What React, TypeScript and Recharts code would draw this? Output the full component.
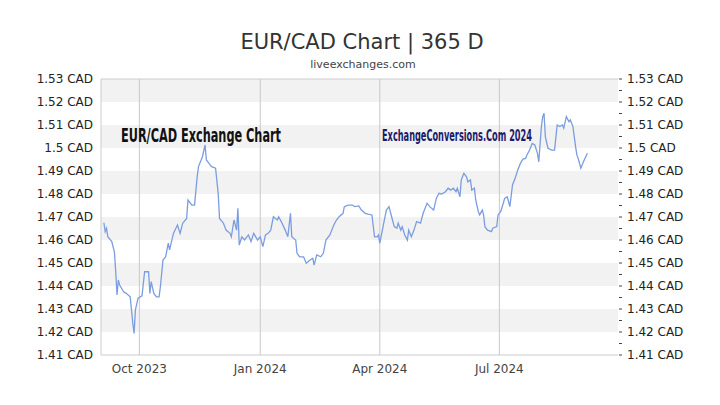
import { LineChart, Line, XAxis, YAxis, ReferenceArea, ReferenceLine } from 'recharts'

// EUR/CAD daily closes
const dates = [
  '2023-09-04', '2023-09-05', '2023-09-06', '2023-09-07', '2023-09-10', '2023-09-12', '2023-09-13', '2023-09-14',
  '2023-09-15', '2023-09-16', '2023-09-19', '2023-09-21', '2023-09-24', '2023-09-25', '2023-09-26', '2023-09-27',
  '2023-09-28', '2023-09-30', '2023-10-03', '2023-10-05', '2023-10-08', '2023-10-09', '2023-10-10', '2023-10-12',
  '2023-10-14', '2023-10-16', '2023-10-17', '2023-10-19', '2023-10-21', '2023-10-23', '2023-10-24', '2023-10-27',
  '2023-10-30', '2023-11-01', '2023-11-03', '2023-11-06', '2023-11-07', '2023-11-10', '2023-11-12', '2023-11-14',
  '2023-11-15', '2023-11-18', '2023-11-20', '2023-11-21', '2023-11-23', '2023-11-25', '2023-11-28', '2023-11-30',
  '2023-12-01', '2023-12-04', '2023-12-06', '2023-12-09', '2023-12-10', '2023-12-12', '2023-12-14', '2023-12-15',
  '2023-12-16', '2023-12-18', '2023-12-20', '2023-12-23', '2023-12-25', '2023-12-27', '2023-12-30', '2024-01-01',
  '2024-01-03', '2024-01-05', '2024-01-07', '2024-01-09', '2024-01-11', '2024-01-14', '2024-01-15', '2024-01-17',
  '2024-01-20', '2024-01-22', '2024-01-24', '2024-01-25', '2024-01-28', '2024-01-29', '2024-01-31', '2024-02-03',
  '2024-02-05', '2024-02-08', '2024-02-10', '2024-02-11', '2024-02-13', '2024-02-16', '2024-02-18', '2024-02-20',
  '2024-02-23', '2024-02-26', '2024-02-28', '2024-03-01', '2024-03-04', '2024-03-05', '2024-03-08', '2024-03-11',
  '2024-03-13', '2024-03-16', '2024-03-18', '2024-03-21', '2024-03-23', '2024-03-26', '2024-03-28', '2024-03-30',
  '2024-03-31', '2024-04-01', '2024-04-04', '2024-04-06', '2024-04-08', '2024-04-10', '2024-04-12', '2024-04-14',
  '2024-04-15', '2024-04-17', '2024-04-18', '2024-04-20', '2024-04-22', '2024-04-23', '2024-04-25', '2024-04-27',
  '2024-04-29', '2024-05-02', '2024-05-04', '2024-05-07', '2024-05-09', '2024-05-12', '2024-05-14', '2024-05-16',
  '2024-05-18', '2024-05-21', '2024-05-23', '2024-05-25', '2024-05-27', '2024-05-29', '2024-05-30', '2024-06-01',
  '2024-06-02', '2024-06-04', '2024-06-06', '2024-06-07', '2024-06-09', '2024-06-10', '2024-06-12', '2024-06-13',
  '2024-06-15', '2024-06-16', '2024-06-18', '2024-06-19', '2024-06-20', '2024-06-22', '2024-06-25', '2024-06-26',
  '2024-06-29', '2024-06-30', '2024-07-02', '2024-07-04', '2024-07-05', '2024-07-07', '2024-07-09', '2024-07-11',
  '2024-07-13', '2024-07-15', '2024-07-17', '2024-07-19', '2024-07-21', '2024-07-22', '2024-07-24', '2024-07-26',
  '2024-07-28', '2024-07-30', '2024-07-31', '2024-08-02', '2024-08-03', '2024-08-04', '2024-08-05', '2024-08-07',
  '2024-08-10', '2024-08-12', '2024-08-14', '2024-08-16', '2024-08-18', '2024-08-19', '2024-08-21', '2024-08-23',
  '2024-08-24', '2024-08-26', '2024-08-28', '2024-08-29', '2024-08-30', '2024-09-01', '2024-09-03', '2024-09-06',
]

const rates = [
  1.4675, 1.4636, 1.4651, 1.4614, 1.4593, 1.4549, 1.4462, 1.4361,
  1.4426, 1.4404, 1.4375, 1.4368, 1.4353, 1.4296, 1.4238, 1.4194,
  1.4296, 1.4347, 1.4357, 1.4462, 1.4462, 1.4368, 1.4419, 1.4368,
  1.4353, 1.4353, 1.4397, 1.4513, 1.4527, 1.4586, 1.4557, 1.463,
  1.4665, 1.4629, 1.4673, 1.4694, 1.4774, 1.4752, 1.4752, 1.4875,
  1.4919, 1.4962, 1.5013, 1.4948, 1.4933, 1.4919, 1.4912, 1.4803,
  1.4694, 1.4673, 1.4643, 1.4629, 1.4614, 1.4687, 1.4643, 1.4738,
  1.4578, 1.4614, 1.46, 1.4622, 1.4593, 1.4629, 1.46, 1.4614,
  1.4571, 1.4622, 1.4629, 1.4643, 1.4701, 1.4687, 1.4701, 1.468,
  1.4643, 1.4614, 1.4716, 1.4614, 1.46, 1.4542, 1.4527, 1.4527,
  1.4499, 1.4513, 1.452, 1.4491, 1.4535, 1.4527, 1.4542, 1.46,
  1.4622, 1.4665, 1.4687, 1.4701, 1.4716, 1.4745, 1.4752, 1.4752,
  1.4745, 1.4748, 1.473, 1.4716, 1.4713, 1.4709, 1.4614, 1.4614,
  1.4622, 1.4586, 1.4673, 1.473, 1.4745, 1.4701, 1.4658, 1.4651,
  1.4673, 1.4643, 1.4658, 1.4622, 1.46, 1.4643, 1.4614, 1.4643,
  1.468, 1.4673, 1.4716, 1.476, 1.4745, 1.473, 1.4781, 1.4803,
  1.48, 1.481, 1.4825, 1.4817, 1.4825, 1.481, 1.4825, 1.4788,
  1.4861, 1.489, 1.4875, 1.4853, 1.4861, 1.4817, 1.4825, 1.4774,
  1.4723, 1.4709, 1.473, 1.4709, 1.4658, 1.4643, 1.4636, 1.4651,
  1.4658, 1.4709, 1.4723, 1.476, 1.4781, 1.4788, 1.4745, 1.4839,
  1.4868, 1.4904, 1.4933, 1.4952, 1.4955, 1.497, 1.4991, 1.502,
  1.5013, 1.4977, 1.494, 1.5093, 1.5136, 1.5151, 1.5049, 1.4999,
  1.4991, 1.4991, 1.51, 1.5093, 1.51, 1.5086, 1.5136, 1.5114,
  1.5122, 1.5093, 1.5006, 1.497, 1.4955, 1.4912, 1.494, 1.4977,
]

const xTickDates = ['2023-10-01', '2024-01-01', '2024-04-01', '2024-07-01']
const xTickLabels = ['Oct 2023', 'Jan 2024', 'Apr 2024', 'Jul 2024']
const yTicks = [1.41, 1.42, 1.43, 1.44, 1.45, 1.46, 1.47, 1.48, 1.49, 1.5, 1.51, 1.52, 1.53]

const ORIGIN = Date.parse('2023-10-01')
const toDay = (s: string) => (Date.parse(s) - ORIGIN) / 86400000

const data = dates.map((d, i) => ({ day: toDay(d), rate: rates[i] }))
const xTicks = xTickDates.map(toDay)

// grey stripes on every other band, starting at 1.42
const bands = yTicks.slice(0, -1).map((v, i) => [v, yTicks[i + 1]]).filter((_, i) => i % 2 === 1)

// right axis has small marks every half step
const rightTicks = yTicks.flatMap((v, i) =>
  i < yTicks.length - 1 ? [v, Math.round((v + 0.005) * 1000) / 1000] : [v]
)

const font = '"DejaVu Sans", sans-serif'

function renderRightTick(props: any) {
  const { x, y, payload } = props
  const major = yTicks.some((t) => Math.abs(t - payload.value) < 1e-6)
  return (
    <g key={`rt-${payload.value}`}>
      <line x1={x + 1} x2={x + 4} y1={y} y2={y} stroke="#444" />
      {major && (
        <text x={x + 9} y={y} dy="0.355em" fontSize={12} fill="#222" fontFamily={font}>
          {`${payload.value} CAD`}
        </text>
      )}
    </g>
  )
}

export default function App() {
  return (
    <div style={{ position: 'absolute', left: 0, top: 0, width: 720, height: 405, background: '#fff', fontFamily: font }}>
      <LineChart width={720} height={405} data={data} margin={{ top: 79, right: 0, bottom: 20, left: 0 }}>
        <XAxis
          dataKey="day"
          type="number"
          domain={[-29.2, 364.3]}
          ticks={xTicks}
          interval={0}
          tickFormatter={(v) => xTickLabels[xTicks.indexOf(v)]}
          height={30}
          tickLine={false}
          tickSize={0}
          tickMargin={9}
          axisLine={{ stroke: '#ccc' }}
          tick={{ fill: '#444', fontSize: 12, fontFamily: font }}
        />
        <YAxis
          yAxisId="left"
          domain={[1.41, 1.53]}
          ticks={yTicks}
          interval={0}
          width={101}
          tickLine={false}
          tickSize={0}
          tickMargin={8}
          axisLine={{ stroke: '#ccc' }}
          tickFormatter={(v) => `${v} CAD`}
          tick={{ fill: '#222', fontSize: 12, fontFamily: font }}
        />
        <YAxis
          yAxisId="right"
          orientation="right"
          domain={[1.41, 1.53]}
          ticks={rightTicks}
          interval={0}
          width={102}
          tickLine={false}
          tickSize={0}
          tickMargin={0}
          axisLine={false}
          tick={renderRightTick}
        />
        {bands.map(([lo, hi]) => (
          <ReferenceArea key={lo} yAxisId="left" y1={lo} y2={hi} fill="#f2f2f2" fillOpacity={1} stroke="none" />
        ))}
        {xTicks.map((t) => (
          <ReferenceLine key={t} yAxisId="left" x={t} stroke="#c8c8c8" />
        ))}
        <ReferenceLine yAxisId="left" y={1.53} stroke="#ccc" />
        <Line
          yAxisId="right"
          type="linear"
          dataKey="rate"
          stroke="none"
          dot={false}
          legendType="none"
          isAnimationActive={false}
        />
        <Line
          yAxisId="left"
          type="linear"
          dataKey="rate"
          stroke="#7b9de0"
          strokeWidth={1.3}
          dot={false}
          isAnimationActive={false}
        />
      </LineChart>
      <svg width={720} height={405} style={{ position: 'absolute', left: 0, top: 0, pointerEvents: 'none' }}>
        <text x={362} y={49} textAnchor="middle" fontSize={21} fill="#333" fontFamily={font}>
          EUR/CAD Chart | 365 D
        </text>
        <text x={363} y={68} textAnchor="middle" fontSize={11} fill="#444" fontFamily={font}>
          liveexchanges.com
        </text>
        <text
          x={121}
          y={142}
          fontSize={20}
          fontWeight="bold"
          fill="#111"
          fontFamily='"Liberation Sans Narrow", "DejaVu Sans Condensed", sans-serif'
          textLength={160}
          lengthAdjust="spacingAndGlyphs"
        >
          EUR/CAD Exchange Chart
        </text>
        <text
          x={382}
          y={141}
          fontSize={15}
          fontWeight="bold"
          fill="#1b1b6b"
          fontFamily='"Liberation Sans Narrow", "DejaVu Sans Condensed", sans-serif'
          textLength={150}
          lengthAdjust="spacingAndGlyphs"
        >
          ExchangeConversions.Com 2024
        </text>
      </svg>
    </div>
  )
}
